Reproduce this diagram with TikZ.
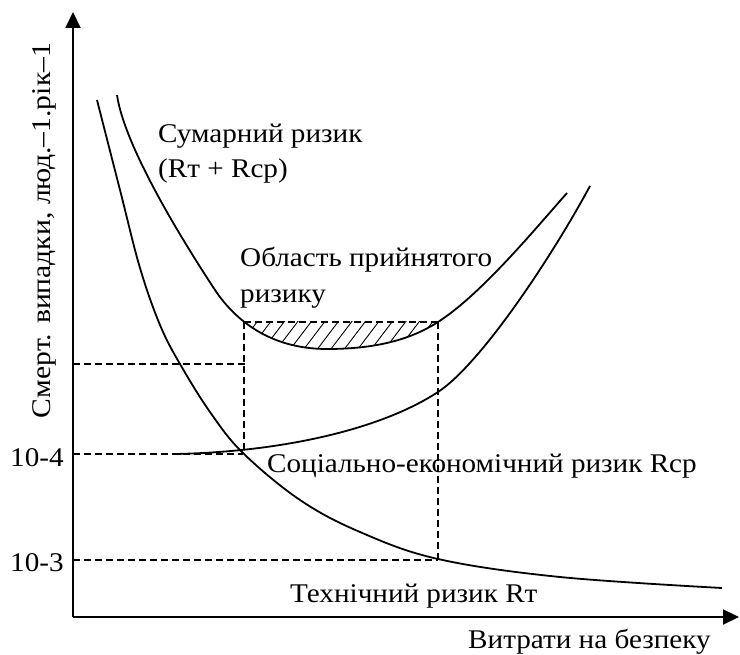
\documentclass[tikz,border=0pt]{standalone}
\usepackage{fontspec}
\usepackage{graphicx}
\setmainfont{Liberation Serif}[FakeStretch=1.08]
\newfontfamily\ylfont{Liberation Serif}
\usetikzlibrary{arrows.meta}
\begin{document}
\begin{tikzpicture}[x=1pt,y=-1pt,
  axis/.style={line width=2pt,-{Triangle[length=16pt,width=15pt]}},
  curve/.style={line width=1.8pt},
  guide/.style={line width=1.6pt, dash pattern=on 7pt off 4pt},
  hatch/.style={line width=0.9pt},
  lbl/.style={anchor=base west, inner sep=0pt, font=\fontsize{27}{32}\selectfont}]
\useasboundingbox (0,0) rectangle (740,655);
% key points
\coordinate (O) at (73,617);
\coordinate (Ytop) at (73,12);
\coordinate (Xend) at (739,617);
\coordinate (yA) at (73,364);
\coordinate (yB) at (73,454);
\coordinate (yC) at (73,560);
\coordinate (pA) at (248,364);
\coordinate (pB) at (243,454);
\coordinate (pC) at (438,560);
\coordinate (tL) at (244,322);
\coordinate (tR) at (438,322);
\coordinate (bL) at (244,454);
% total-risk curve points
\coordinate (s0) at (117,95);
\coordinate (s1) at (215,290);
\coordinate (s2) at (327,349);
\coordinate (s3) at (438,322);
\coordinate (s4) at (567,193);
% socio-economic curve points
\coordinate (c0) at (175,454);
\coordinate (c1) at (438,392);
\coordinate (c2) at (590,186);
% hatched area
\begin{scope}
  \clip (244,322) rectangle (438,370);
  \clip (s0) .. controls (125,150) and (190,252) .. (s1)
        .. controls (235,320) and (270,349) .. (s2)
        .. controls (375,349) and (410,340) .. (s3)
        .. controls (480,295) and (530,235) .. (s4) -- cycle;
  \foreach \i in {180,193.5,...,470} \draw[hatch] (\i,370) -- ++(38,-50);
\end{scope}
% axes
\draw[axis] (O) -- (Ytop);
\draw[axis] (O) -- (Xend);
% guides
\draw[guide] (yA) -- (pA);
\draw[guide] (yB) -- (pB);
\draw[guide] (yC) -- (pC);
\draw[guide] (tL) -- (bL);
\draw[guide] (tR) -- (pC);
\draw[guide] (tL) -- (tR);
% technical risk
\draw[curve, smooth, tension=0.6] plot coordinates {(97,100) (120,190) (140,268) (160,325) (180,364) (210,412) (243,453) (300,500) (360,532) (438,559) (560,577) (722,588)};
% total risk
\draw[curve] (s0) .. controls (125,150) and (190,252) .. (s1)
        .. controls (235,320) and (270,349) .. (s2)
        .. controls (375,349) and (410,340) .. (s3)
        .. controls (480,295) and (530,235) .. (s4);
% socio-economic risk
\draw[curve] (c0) .. controls (280,452) and (380,430) .. (c1)
        .. controls (480,364.5) and (550,260) .. (c2);
% labels
\node[lbl] (sum1) at (158,143) {Сумарний ризик};
\node[lbl] (sum2) at (158,178) {(Rт + Rср)};
\node[lbl] (area1) at (240,267) {Область прийнятого};
\node[lbl] (area2) at (240,303) {ризику};
\node[lbl] (soc) at (267,472) {Соціально-економічний ризик Rср};
\node[lbl] (tech) at (290,602) {Технічний ризик Rт};
\node[lbl] (xl) at (468,648) {Витрати на безпеку};
\node[lbl] (v4) at (10,467) {10-4};
\node[lbl] (v3) at (10,571) {10-3};
\node[anchor=base, inner sep=0pt, rotate=90] (yl) at (50,230.5) {\resizebox{375pt}{\height}{\fontsize{27}{32}\ylfont Смерт. випадки, люд.–1.рік–1}};
\end{tikzpicture}
\end{document}
